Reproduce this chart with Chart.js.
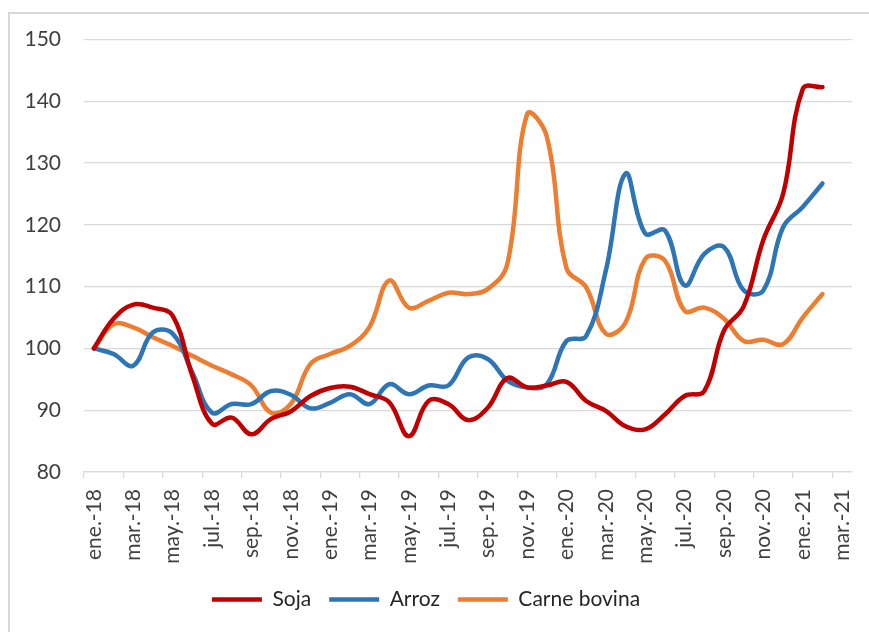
<!DOCTYPE html>
<html>
<head>
<meta charset="utf-8">
<script src="https://cdn.jsdelivr.net/npm/chart.js@4"></script>
<style>
  html, body { margin: 0; padding: 0; background: #fff; overflow: hidden; }
  #marco { position: absolute; left: 8px; top: 12px; width: 900px; height: 700px; border: 2px solid #d9d9d9; }
  #grafica { position: absolute; left: 0; top: 0; }
</style>
</head>
<body>
<div id="marco"></div>
<canvas id="grafica" width="869" height="632"></canvas>
<script>
// meses (eje x), de ene.-18 a mar.-21
const meses = [
  "ene.-18", "feb.-18", "mar.-18", "abr.-18", "may.-18", "jun.-18", "jul.-18", "ago.-18", "sep.-18", "oct.-18", "nov.-18", "dic.-18",
  "ene.-19", "feb.-19", "mar.-19", "abr.-19", "may.-19", "jun.-19", "jul.-19", "ago.-19", "sep.-19", "oct.-19", "nov.-19", "dic.-19",
  "ene.-20", "feb.-20", "mar.-20", "abr.-20", "may.-20", "jun.-20", "jul.-20", "ago.-20", "sep.-20", "oct.-20", "nov.-20", "dic.-20",
  "ene.-21", "feb.-21", "mar.-21"
];

const soja = [100, 104.8, 107.1, 106.6, 105.3, 95.6, 87.8, 88.8, 86.1, 88.6, 89.8, 92.3,
  93.6, 93.8, 92.6, 91.3, 85.8, 91.5, 91, 88.4, 90.4, 95.2, 93.7, 94,
  94.6, 91.5, 89.9, 87.4, 86.9, 89.3, 92.3, 93.1, 102.9, 106.8, 117.6, 125,
  142, 142.3, null];

const arroz = [100, 99.1, 97.2, 102.6, 102.4, 96.1, 89.6, 91, 91, 93.1, 92.5, 90.3,
  91.2, 92.6, 91, 94.2, 92.6, 94, 94, 98.5, 98.3, 94.8, 93.7, 94.2,
  101.2, 102, 112.6, 128.3, 118.6, 119.1, 110.2, 115.3, 116.4, 109.4, 109.4, 119.6,
  122.9, 126.7, null];

const carne = [100, 103.9, 103.4, 101.8, 100.4, 98.8, 97.2, 95.8, 94, 89.6, 91, 97.5,
  99.1, 100.4, 103.5, 111, 106.6, 107.7, 109, 108.8, 109.6, 113.7, 137.9, 134.3,
  113, 109.9, 102.4, 104.2, 114.5, 114.2, 106.1, 106.6, 104.8, 101.2, 101.4, 100.7,
  105, 108.8, null];

const ticksY = [80, 90, 100, 110, 120, 130, 140, 150];

Chart.defaults.font.family = "Lato";
Chart.defaults.font.size = 21;
Chart.defaults.color = "#404040";

function serie(nombre, datos, color) {
  return {
    label: nombre,
    data: datos,
    borderColor: color,
    backgroundColor: color,
    borderWidth: 4.5,
    borderCapStyle: "round",
    pointRadius: 0,
    pointHoverRadius: 0,
    pointStyle: "line",
    tension: 0.4,
    fill: false
  };
}

const ctx = document.getElementById("grafica");

new Chart(ctx, {
  type: "line",
  data: {
    labels: meses,
    datasets: [
      serie("Soja", soja, "#c00000"),
      serie("Arroz", arroz, "#2e75b6"),
      serie("Carne bovina", carne, "#ed7d31")
    ]
  },
  options: {
    responsive: false,
    animation: false,
    layout: { padding: { top: 39.5, right: 17, bottom: 12, left: 0 } },
    plugins: {
      tooltip: { enabled: false },
      legend: {
        position: "bottom",
        labels: {
          usePointStyle: true,
          pointStyle: "line",
          pointStyleWidth: 50,
          boxHeight: 5,
          padding: 18,
          color: "#262626"
        }
      }
    },
    scales: {
      x: {
        offset: true,
        afterFit: (s) => { s.height = 99; s.paddingLeft = 0; s.paddingRight = 0; },
        grid: {
          offset: true,
          drawOnChartArea: false,
          drawTicks: true,
          tickLength: 6,
          lineWidth: 1.3,
          color: (c) => (c.index % 2 === 0 ? "#d9d9d9" : "rgba(0,0,0,0)")
        },
        border: { display: true, color: "#d9d9d9", width: 1.3 },
        ticks: {
          autoSkip: false,
          maxRotation: 90,
          minRotation: 90,
          padding: 11,
          callback: function (v, i) { return i % 2 === 0 ? meses[i] : ""; }
        }
      },
      y: {
        min: 80,
        max: 150,
        afterFit: (s) => { s.width = 84; s.paddingTop = 0; s.paddingBottom = 0; },
        afterBuildTicks: (s) => { s.ticks = ticksY.map((v) => ({ value: v })); },
        grid: { color: "#d9d9d9", lineWidth: 1.3, drawTicks: false },
        border: { display: false },
        ticks: { padding: 23 }
      }
    }
  }
});
</script>
</body>
</html>
